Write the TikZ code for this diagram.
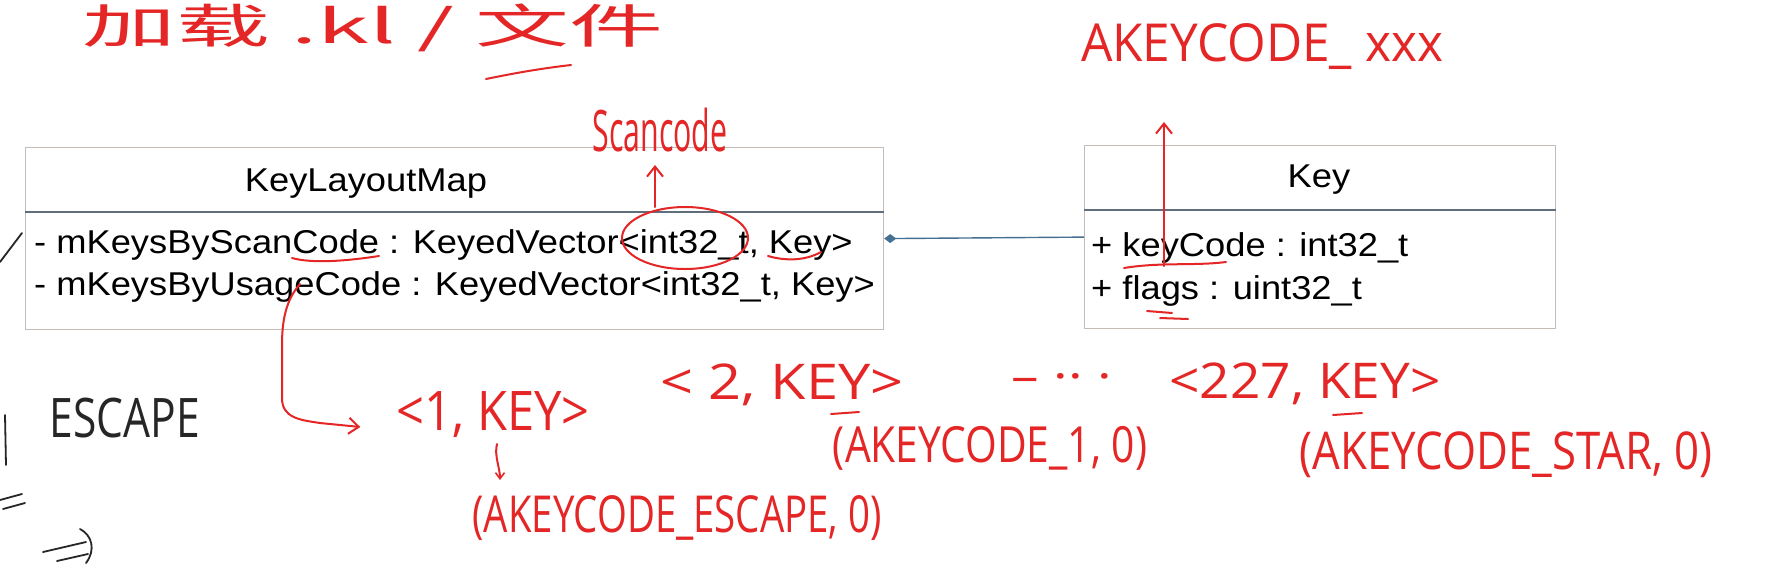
\documentclass[tikz,border=0pt]{standalone}
\usepackage{fontspec}
\setmainfont{Liberation Sans}
\newfontfamily\umlfont[FakeStretch=1.1]{Liberation Sans}
\newfontfamily\hwfont{Open Sans}
\newfontfamily\cjkfont{Noto Sans CJK SC}
\usetikzlibrary{arrows.meta,calc}
\definecolor{boxgray}{RGB}{196,188,182}
\definecolor{divgray}{RGB}{95,110,122}
\definecolor{linkblue}{RGB}{70,112,145}
\definecolor{inkred}{RGB}{228,38,38}
\newcommand{\hw}[3]{\resizebox*{#1pt}{#2pt}{\hwfont #3}}
\tikzset{
  umlbox/.style={draw=boxgray, line width=1.2pt, inner sep=0pt, anchor=north west},
  divider/.style={draw=divgray, line width=1.6pt},
  umltext/.style={font=\umlfont\fontsize{33}{40}\selectfont, inner sep=0pt, anchor=base west},
  umltitle/.style={font=\umlfont\fontsize{33}{40}\selectfont, inner sep=0pt, anchor=base},
  link/.style={draw=linkblue, line width=1.4pt},
  ink/.style={draw=inkred, line width=2pt, line cap=round, line join=round},
  blackink/.style={draw=black!85, line width=1.8pt, line cap=round, line join=round},
  note/.style={text=inkred, inner sep=0pt},
  blacknote/.style={text=black!85, inner sep=0pt},
  inkarrow/.style={ink, -{Straight Barb[length=10pt,width=16pt,line width=2pt]}}
}
\begin{document}
\begin{tikzpicture}[x=1pt,y=-1pt]
\useasboundingbox (0,0) rectangle (1772,566);
\clip (0,0) rectangle (1772,566);
\fill[white] (0,0) rectangle (1772,566);

% UML class boxes
\node[umlbox, minimum width=858pt, minimum height=182pt] (klm) at (25,147) {};
\node[umlbox, minimum width=471pt, minimum height=183pt] (key) at (1084,145) {};
\draw[divider] (klm.west |- 0,212) -- (klm.east |- 0,212);
\draw[divider] (key.west |- 0,210) -- (key.east |- 0,210);

\node[umltitle] (klmtitle) at (366,191) {KeyLayoutMap};
\node[umltext] (attr1) at (34,253) {- mKeysByScanCode : KeyedVector<int32\_t, Key>};
\node[umltext] (attr2) at (34,295) {- mKeysByUsageCode : KeyedVector<int32\_t, Key>};

\node[umltitle] (keytitle) at (1319,187) {Key};
\node[umltext] (kattr1) at (1091,256) {+ keyCode : int32\_t};
\node[umltext] (kattr2) at (1091,299) {+ flags : uint32\_t};

% composition link
\draw[link, {Diamond[length=12pt,width=9pt,fill=linkblue]}-] (klm.east) -- (key.west);

% red annotations
\node[note] (cn) at (373,28) {\resizebox*{580pt}{48pt}{\cjkfont 加载 .kl / 文件}};
\draw[ink] (486,79) .. controls (520,72) and (545,68) .. (571,65);

\node[note] (scancode) at (660,130) {\hw{135}{44}{Scancode}};
\draw[ink] (685,238) ellipse [x radius=63, y radius=31];
\coordinate (circtop) at (655,207);
\draw[inkarrow] (circtop) -- (circtop |- 0,165);

\draw[ink] (292,258) .. controls (310,263) and (340,262) .. (379,256);
\draw[ink] (768,256) .. controls (785,261) and (805,261) .. (821,252);

\node[note] (akc) at (1262,47) {\hw{362}{46}{AKEYCODE\_ xxx}};
\coordinate (kcul) at (1164,266);
\draw[ink] (1124,268) .. controls (1160,262) and (1195,266) .. (1226,262);
\draw[inkarrow] (kcul) -- (1164,122);
\draw[ink] (1147,311) -- (1172,313);
\draw[ink] (1160,318) -- (1188,319);

% usage code curve
\coordinate (ustart) at (300,284);
\node[note] (p1) at (493,415) {\hw{193}{46}{<1, KEY>}};
\draw[inkarrow] (ustart) .. controls (286,300) and (282,320) .. (282,345) -- (282,398) .. controls (282,418) and (300,420) .. (320,423) -- ([xshift=-36pt]p1.west |- 0,427);
\node[note] (esc) at (677,518) {\hw{409}{45}{(AKEYCODE\_ESCAPE, 0)}};
\draw[ink, -{Straight Barb[length=6pt,width=9pt,line width=1.6pt]}] (497,444) .. controls (494,455) and (500,468) .. (500,480);

\node[note] (p2) at (782,385) {\hw{243}{42}{< 2, KEY>}};
\draw[ink] (831,414) -- (859,412);
\node[note] (k1) at (990,448) {\hw{314}{44}{(AKEYCODE\_1, 0)}};
\node[note] (dots) at (1062,382) {\hw{100}{18}{– ·· ·}};
\node[note] (p227) at (1305,384) {\hw{271}{42}{<227, KEY>}};
\draw[ink] (1333,415) -- (1362,413);
\node[note] (kstar) at (1506,455) {\hw{412}{46}{(AKEYCODE\_STAR, 0)}};

% black handwriting on the left
\draw[blackink] (0,262) -- (22,233);
\draw[blackink] (5,415) -- (6,465);
\node[blacknote] (escape) at (125,418) {\hw{150}{40}{ESCAPE}};
\draw[blackink] (0,500) -- (22,494);
\draw[blackink] (3,509) -- (25,503);
\draw[blackink] (43,552) -- (86,542);
\draw[blackink] (57,561) -- (88,554);
\draw[blackink] (80,529) .. controls (92,535) and (96,550) .. (86,563);
\end{tikzpicture}
\end{document}
